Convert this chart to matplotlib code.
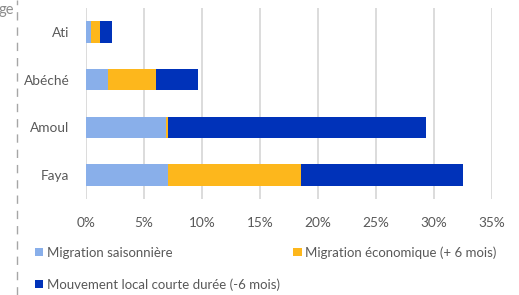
import matplotlib
matplotlib.use("Agg")
import matplotlib.pyplot as plt
import numpy as np
from matplotlib.lines import Line2D

plt.rcParams['font.family'] = ['Lato', 'DejaVu Sans']

categories = ["Ati", "Abéché", "Amoul", "Faya"]
series_names = ["Migration saisonnière",
                "Migration économique (+ 6 mois)",
                "Mouvement local courte durée (-6 mois)"]
saisonniere = [0.46, 1.9, 6.87, 7.1]
economique = [0.77, 4.16, 0.2, 11.4]
local = [1.04, 3.6, 22.2, 14.0]
xticks = [0, 5, 10, 15, 20, 25, 30, 35]
xticklabels = ["0%", "5%", "10%", "15%", "20%", "25%", "30%", "35%"]
colors = ["#89AFEA", "#FDB71C", "#0032B9"]

W, H = 519, 295
fig = plt.figure(figsize=(W / 100, H / 100), dpi=100)
ax = fig.add_axes([86 / W, 1 - 199 / H, (492 - 86) / W, (199 - 8) / H])

y = np.arange(len(categories))
left = np.zeros(len(categories))
handles = []
for vals, c, name in zip([saisonniere, economique, local], colors, series_names):
    b = ax.barh(y, vals, left=left, height=0.455, color=c, label=name, zorder=3)
    handles.append(b)
    left = left + np.array(vals)

ax.set_ylim(len(categories) - 0.5, -0.5)
ax.set_xlim(0, 35)
ax.set_yticks(y)
ax.set_yticklabels(categories)
ax.set_xticks(xticks)
ax.set_xticklabels(xticklabels)
ax.tick_params(axis='both', length=0, labelsize=9.8, colors="#595959")
ax.tick_params(axis='y', pad=12)
ax.tick_params(axis='x', pad=13)
for s in ax.spines.values():
    s.set_visible(False)
ax.grid(axis='x', color="#D9D9D9", linewidth=1.3, zorder=0)
ax.set_axisbelow(True)

leg = fig.legend([handles[0], handles[2], handles[1]],
                 [series_names[0], series_names[2], series_names[1]],
                 ncol=2, loc='upper left', bbox_to_anchor=(35 / W, 1 - 246 / H),
                 frameon=False, fontsize=9.5, handlelength=0.62, handleheight=0.62,
                 handletextpad=0.3, columnspacing=1.0, labelspacing=1.48,
                 labelcolor="#595959", borderaxespad=0, borderpad=0)

# cropped remnant at left edge
fig.add_artist(Line2D([17 / W, 17 / W], [0, 1], transform=fig.transFigure,
                      color="#A6A6A6", linewidth=1.0, linestyle=(0, (6, 5))))
fig.text(-0.002, 1 - 10 / H, "ge", color="#8C8C8C", fontsize=10.5, va='center', ha='left')

fig.savefig("out.png", dpi=100)
